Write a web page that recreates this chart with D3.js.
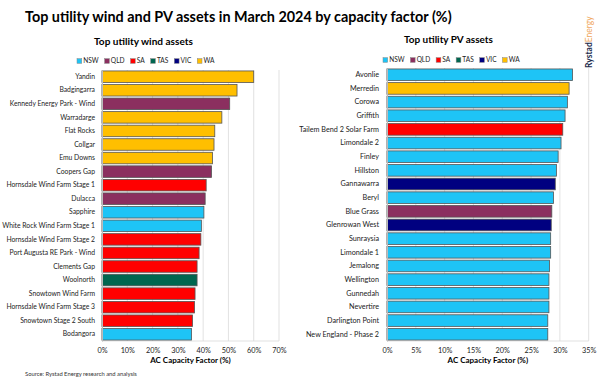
<!DOCTYPE html>
<html><head><meta charset="utf-8">
<script src="https://cdn.jsdelivr.net/npm/d3@7"></script>
<style>body{margin:0;background:#fff}svg{display:block}text{font-family:Lato,"Open Sans",sans-serif}</style>
</head><body><svg id="c" width="600" height="380"></svg>
<script>
const states = ["NSW","QLD","SA","TAS","VIC","WA"];
const stateColors = ["#1ec4f6","#8b2f5f","#ff0000","#00664f","#000080","#ffbf00"];

const windNames = ["Yandin","Badgingarra","Kennedy Energy Park - Wind","Warradarge","Flat Rocks","Collgar","Emu Downs","Coopers Gap","Hornsdale Wind Farm Stage 1","Dulacca","Sapphire","White Rock Wind Farm Stage 1","Hornsdale Wind Farm Stage 2","Port Augusta RE Park - Wind","Clements Gap","Woolnorth","Snowtown Wind Farm","Hornsdale Wind Farm Stage 3","Snowtown Stage 2 South","Bodangora"];
const windStates = ["WA","WA","QLD","WA","WA","WA","WA","QLD","SA","QLD","NSW","NSW","SA","SA","SA","TAS","SA","SA","SA","NSW"];
const windValues = [60.0,53.4,50.5,47.4,44.6,44.3,43.7,43.3,41.2,40.8,40.3,39.3,39.1,38.4,37.6,37.6,36.8,36.6,35.8,35.4];
const windTicks = [0,10,20,30,40,50,60,70];

const pvNames = ["Avonlie","Merredin","Corowa","Griffith","Tailem Bend 2 Solar Farm","Limondale 2","Finley","Hillston","Gannawarra","Beryl","Blue Grass","Glenrowan West","Sunraysia","Limondale 1","Jemalong","Wellington","Gunnedah","Nevertire","Darlington Point","New England - Phase 2"];
const pvStates = ["NSW","WA","NSW","NSW","SA","NSW","NSW","NSW","VIC","NSW","QLD","VIC","NSW","NSW","NSW","NSW","NSW","NSW","NSW","NSW"];
const pvValues = [32.2,31.6,31.3,30.9,30.5,30.2,29.7,29.4,29.2,28.9,28.6,28.5,28.4,28.4,28.2,28.1,28.1,28.1,27.9,27.9];
const pvTicks = [0,5,10,15,20,25,30,35];

const svg = d3.select("#c");
const color = d3.scaleOrdinal(states, stateColors);

function fit(sel, w){
  const L = sel.node().getComputedTextLength();
  const fs = parseFloat(sel.attr("font-size"));
  sel.attr("font-size", fs*w/L);
  return sel;
}

fit(svg.append("text").attr("x",25).attr("y",22).attr("font-size",15).attr("font-weight","bold").attr("fill","#000")
  .text("Top utility wind and PV assets in March 2024 by capacity factor (%)"), 427);

fit(svg.append("text").attr("x",25).attr("y",376).attr("font-size",5.5).attr("fill","#333")
  .text("Source: Rystad Energy research and analysis"), 112);

// logo
const logo = svg.append("text").attr("transform","translate(592,68) rotate(-90)").attr("font-size",8.5).attr("font-weight","bold");
logo.append("tspan").attr("fill","#1a2a4a").text("Rystad");
logo.append("tspan").attr("fill","#f0a860").attr("font-weight","normal").text("Energy");

function legend(g, x0, y0, W){
  const build = (fs) => {
    g.selectAll("*").remove();
    let off = 0;
    states.forEach(s=>{
      const it = g.append("g").attr("transform",`translate(${x0+off},${y0})`);
      const sw = fs*0.72;
      it.append("rect").attr("x",0).attr("y",-sw/2).attr("width",sw).attr("height",sw).attr("fill",color(s)).attr("stroke","#888").attr("stroke-width",0.5);
      const t = it.append("text").attr("x",sw+1.5).attr("y",0).attr("dy","0.35em").attr("font-size",fs).attr("fill","#222").text(s);
      off += sw + 1.5 + t.node().getComputedTextLength() + fs*0.9;
    });
    return off - fs*0.9;
  };
  const w = build(8);
  build(8*W/w);
}

function panel(cfg){
  const g = svg.append("g");
  const x = d3.scaleLinear().domain([0, cfg.max]).range([cfg.x0, cfg.x1]);
  const y = d3.scaleBand().domain(cfg.names).range([cfg.y0, cfg.y1]).paddingInner(0.15).paddingOuter(0.07);
  fit(g.append("text").attr("x",cfg.tx).attr("y",cfg.ty).attr("text-anchor","middle").attr("font-size",10.5).attr("font-weight","bold").text(cfg.title), cfg.tw);
  legend(g.append("g"), cfg.lx, cfg.ly, cfg.lw);
  g.append("g").selectAll("line").data(cfg.ticks).join("line")
    .attr("x1",d=>x(d)).attr("x2",d=>x(d)).attr("y1",cfg.y0).attr("y2",cfg.y1)
    .attr("stroke","#d9d9d9").attr("stroke-width",0.8);
  g.append("line").attr("x1",cfg.x0).attr("x2",cfg.x1).attr("y1",cfg.y1).attr("y2",cfg.y1).attr("stroke","#d9d9d9").attr("stroke-width",0.8);
  const data = cfg.names.map((n,i)=>({n, v:cfg.values[i], s:cfg.st[i]}));
  g.append("g").selectAll("rect").data(data).join("rect")
    .attr("x",x(0)).attr("y",d=>y(d.n)).attr("width",d=>x(d.v)-x(0)).attr("height",y.bandwidth())
    .attr("fill",d=>color(d.s)).attr("stroke","#555").attr("stroke-width",0.8);
  const ya = g.append("g").attr("transform",`translate(${cfg.x0},0)`).call(d3.axisLeft(y).tickSize(0).tickPadding(cfg.pad));
  ya.select(".domain").attr("stroke","#bbb");
  const yt = ya.selectAll("text").attr("font-size",8).attr("fill","#222").attr("font-family","Lato,sans-serif");
  const maxW = d3.max(yt.nodes(), n=>n.getComputedTextLength());
  yt.attr("font-size", 8*cfg.lblW/maxW);
  const xa = g.append("g").attr("transform",`translate(0,${cfg.y1})`).call(d3.axisBottom(x).tickValues(cfg.ticks).tickFormat(d=>d+"%").tickSize(0).tickPadding(7));
  xa.select(".domain").remove();
  xa.selectAll("text").attr("font-size",7.3).attr("fill","#222").attr("font-family","Lato,sans-serif");
  g.append("text").attr("x",(cfg.x0+cfg.x1)/2).attr("y",cfg.y1+22).attr("text-anchor","middle").attr("font-size",8).attr("font-weight","bold").text("AC Capacity Factor (%)");
}

panel({names:windNames, values:windValues, st:windStates, ticks:windTicks, max:70,
  x0:102, x1:279, y0:70, y1:341, title:"Top utility wind assets", tx:143.5, ty:45, tw:99, lx:77, ly:61, lw:136, lblW:93, pad:7});
panel({names:pvNames, values:pvValues, st:pvStates, ticks:pvTicks, max:35,
  x0:387, x1:588.7, y0:68, y1:341, title:"Top utility PV assets", tx:448.5, ty:43, tw:89, lx:383, ly:60, lw:135, lblW:80, pad:8});
</script></body></html>
